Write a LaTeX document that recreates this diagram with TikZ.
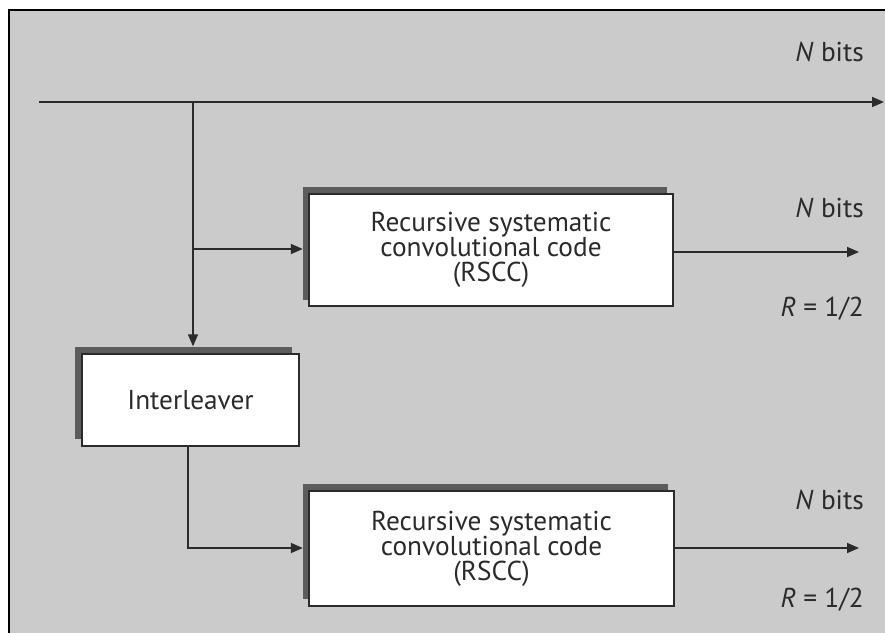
\documentclass[tikz,border=0pt]{standalone}
\usepackage{fontspec}
\setmainfont{PT Sans}
\usetikzlibrary{arrows.meta,calc}
\definecolor{bg}{HTML}{CBCBCB}
\definecolor{ln}{HTML}{2B2B2B}
\definecolor{sh}{HTML}{5C5C5C}
\begin{document}
\begin{tikzpicture}[x=1pt,y=-1pt,
  every node/.style={font=\fontsize{27.3}{25}\selectfont, text=ln},
  blk/.style={draw=ln, line width=1.5pt, fill=white, inner sep=0pt, align=center},
  shd/.style={fill=sh, inner sep=0pt},
  conn/.style={draw=ln, line width=1.6pt},
  arr/.style={conn, -{Triangle[length=12pt,width=10pt]}},
  lab/.style={anchor=east, inner sep=0pt}]
\useasboundingbox (0,0) rectangle (885,632);
\begin{scope}
\clip (0,0) rectangle (885,632);
\draw[fill=bg, line width=2.5pt] (9,10) rectangle (900,650);
\end{scope}
% shadows
\node[shd, minimum width=364pt, minimum height=113pt] (s1) at (485,243.5) {};
\node[shd, minimum width=217pt, minimum height=92pt] (si) at (183.5,392.5) {};
\node[shd, minimum width=365pt, minimum height=115pt] (s2) at (485.5,541) {};
% boxes
\node[blk, minimum width=364pt, minimum height=112pt] (b1) at (491,250) {Recursive systematic\\convolutional code\\(RSCC)};
\node[blk, minimum width=217pt, minimum height=92pt] (bi) at (190.5,400) {Interleaver};
\node[blk, minimum width=365pt, minimum height=115pt] (b2) at (491.5,548.5) {Recursive systematic\\convolutional code\\(RSCC)};
% connectors
\coordinate (start) at (39,102);
\coordinate (end) at (884,102);
\coordinate (j1) at (193,102);
\coordinate (j2) at (193,249);
\coordinate (c2) at (188,548);
\coordinate (o1) at (859,252);
\coordinate (o2) at (859,548);
\draw[arr] (start) -- (end);
\draw[arr] (j1) -- (j1 |- si.north);
\draw[arr] (j2) -- (j2 -| s1.west);
\draw[arr] (bi.south -| c2) |- (c2 -| s2.west);
\draw[arr] (b1.east |- o1) -- (o1);
\draw[arr] (b2.east |- o2) -- (o2);
% labels
\node[lab] (n0) at (864,52) {\textit{N} bits};
\node[lab] (n1) at (864,208) {\textit{N} bits};
\node[lab] (r1) at (864,309) {\textit{R} = 1/2};
\node[lab] (n2) at (864,500) {\textit{N} bits};
\node[lab] (r2) at (864,600) {\textit{R} = 1/2};
\end{tikzpicture}
\end{document}
